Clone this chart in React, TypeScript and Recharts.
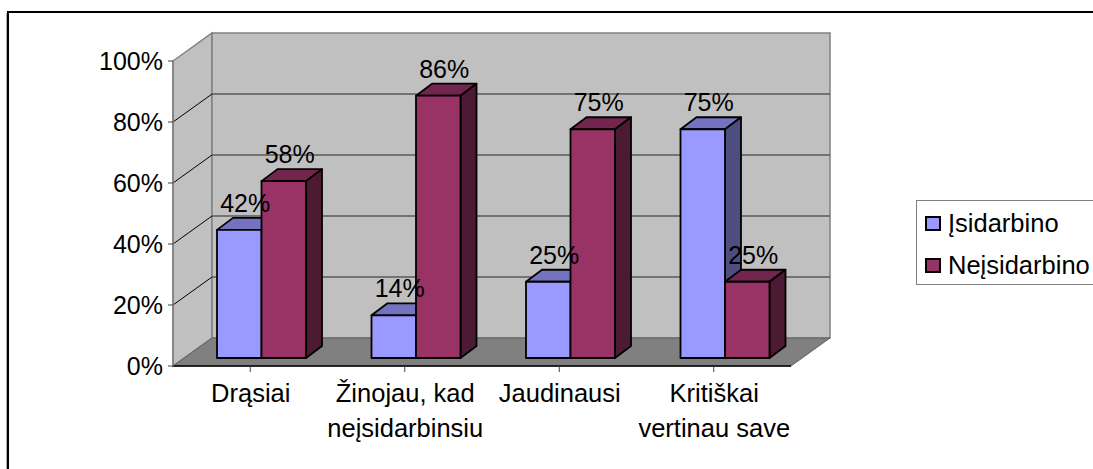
import React from 'react';
import { BarChart, Bar, XAxis, YAxis, CartesianGrid, Legend, LabelList } from 'recharts';

const categories = ['Drąsiai', 'Žinojau, kad\nneįsidarbinsiu', 'Jaudinausi', 'Kritiškai\nvertinau save'];
const isidarbino = [0.42, 0.14, 0.25, 0.75];
const neisidarbino = [0.58, 0.86, 0.75, 0.25];
const yTicks = [0, 0.2, 0.4, 0.6, 0.8, 1];

const data = categories.map((name, i) => ({
    name,
    isidarbino: isidarbino[i],
    neisidarbino: neisidarbino[i],
}));

const FONT = '"Liberation Sans", Arial, sans-serif';
const PLOT = { left: 173, right: 791, top: 61, bottom: 366 };
const LEGEND_WIDTH = 177;
// 3D look: depth of the walls and of the bars, and where the bars sit on the floor
const WALL_DX = 39;
const WALL_DY = -28;
const BAR_DX = 16;
const BAR_DY = -12;
const FLOOR_DX = 11;
const FLOOR_DY = -8;

const pts = (list: number[][]) => list.map((p) => p.join(',')).join(' ');

// sits in its own svg under the chart so the grid stays visible on top of it
const Walls = () => {
    const { left, right, top, bottom } = PLOT;
    return (
        <svg width={1093} height={469} style={{ position: 'absolute', left: 0, top: 0 }}>
            <polygon
                points={pts([[left, top], [left + WALL_DX, top + WALL_DY], [left + WALL_DX, bottom + WALL_DY], [left, bottom]])}
                fill="#C0C0C0"
                stroke="#808080"
                strokeWidth={1.5}
            />
            <rect
                x={left + WALL_DX}
                y={top + WALL_DY}
                width={right - left}
                height={bottom - top}
                fill="#C0C0C0"
                stroke="#808080"
                strokeWidth={1.5}
            />
            <polygon
                points={pts([[left, bottom], [left + WALL_DX, bottom + WALL_DY], [right + WALL_DX, bottom + WALL_DY], [right, bottom]])}
                fill="#808080"
                stroke="#606060"
            />
        </svg>
    );
};

// gridline runs up the side wall and then along the back wall
const GridLine = (props: any) => {
    const { x1, x2, y1 } = props;
    if (Math.abs(y1 - PLOT.top) < 1 || Math.abs(y1 - PLOT.bottom) < 1) return null;
    return (
        <g>
            <line x1={x1} y1={y1} x2={x1 + WALL_DX} y2={y1 + WALL_DY} stroke="#000" strokeWidth={1} />
            <line x1={x1 + WALL_DX} y1={y1 + WALL_DY} x2={x2 + WALL_DX} y2={y1 + WALL_DY} stroke="#5a5a5a" strokeWidth={1.5} />
        </g>
    );
};

const makeBox = (front: string, top: string, side: string) => (props: any) => {
    const { x, y, width, height } = props;
    const l = x + FLOOR_DX;
    const r = l + width;
    const t = y + FLOOR_DY;
    const b = t + height;
    return (
        <g stroke="#000" strokeWidth={1.8} strokeLinejoin="round">
            <polygon points={pts([[l, t], [l + BAR_DX, t + BAR_DY], [r + BAR_DX, t + BAR_DY], [r, t]])} fill={top} />
            <polygon points={pts([[r, t], [r + BAR_DX, t + BAR_DY], [r + BAR_DX, b + BAR_DY], [r, b]])} fill={side} />
            <rect x={l} y={t} width={width} height={height} fill={front} />
        </g>
    );
};

const BarValue = (props: any) => {
    const { x, y, width, value } = props;
    return (
        <text
            x={x + FLOOR_DX + width / 2 + 6}
            y={y + FLOOR_DY - 18}
            textAnchor="middle"
            fontFamily={FONT}
            fontSize={25}
            fill="#000"
        >
            {Math.round(value * 100)}%
        </text>
    );
};

const CategoryTick = (props: any) => {
    const { x, y, payload } = props;
    const lines: string[] = String(payload.value).split('\n');
    return (
        <g>
            {lines.map((line, i) => (
                <text
                    key={line}
                    x={x + 0.5}
                    y={y + 28 + i * 35}
                    textAnchor="middle"
                    fontFamily={FONT}
                    fontSize={25.5}
                    fill="#000"
                >
                    {line}
                </text>
            ))}
        </g>
    );
};

const LegendBox = ({ payload }: any) => (
    <div
        style={{
            boxSizing: 'border-box',
            width: LEGEND_WIDTH + 10,
            height: 85,
            border: '1.5px solid #808080',
            background: '#fff',
            fontFamily: FONT,
            fontSize: 25.5,
            position: 'relative',
        }}
    >
        {(payload || []).map((entry: any, i: number) => (
            <div key={entry.value} style={{ position: 'absolute', left: 8, top: 8 + i * 42, height: 28, lineHeight: '28px', whiteSpace: 'nowrap' }}>
                <span
                    style={{
                        position: 'absolute',
                        top: 7,
                        left: 0,
                        boxSizing: 'border-box',
                        width: 16,
                        height: 15,
                        background: entry.color,
                        border: '2px solid #000',
                    }}
                />
                <span style={{ marginLeft: 23 }}>{entry.value}</span>
            </div>
        ))}
    </div>
);

export default function App() {
    return (
        <div style={{ position: 'absolute', left: 0, top: 0, width: 1093, height: 469, overflow: 'hidden', background: '#fff' }}>
            <div style={{ position: 'absolute', left: 6, top: 13, width: 1, height: 460, background: '#aaa' }} />
            <div style={{ position: 'absolute', left: 7, top: 11, width: 1200, height: 600, borderTop: '2px solid #000', borderLeft: '2px solid #000' }} />
            <Walls />
            <div style={{ position: 'absolute', left: 0, top: 0 }}>
                <BarChart
                    width={1093}
                    height={469}
                    data={data}
                    margin={{ top: PLOT.top, right: 1093 - PLOT.right - LEGEND_WIDTH, bottom: 0, left: 0 }}
                    barSize={44.5}
                    barGap={0}
                >
                    <CartesianGrid vertical={false} horizontal={(p: any) => <GridLine key={p.key} {...p} />} />
                    <XAxis
                        dataKey="name"
                        height={469 - PLOT.bottom}
                        interval={0}
                        axisLine={{ stroke: '#000', strokeWidth: 1.5 }}
                        tickLine={{ stroke: '#404040' }}
                        tickSize={6}
                        tick={<CategoryTick />}
                    />
                    <YAxis
                        width={PLOT.left}
                        domain={[0, 1]}
                        ticks={yTicks}
                        interval={0}
                        axisLine={{ stroke: '#808080', strokeWidth: 1.5 }}
                        tickLine={{ stroke: '#404040' }}
                        tickSize={5}
                        tickMargin={5}
                        tick={{ fill: '#000', fontFamily: FONT, fontSize: 25 }}
                        tickFormatter={(v: number) => `${Math.round(v * 100)}%`}
                    />
                    <Legend
                        layout="vertical"
                        align="right"
                        verticalAlign="top"
                        width={LEGEND_WIDTH}
                        itemSorter={null}
                        content={<LegendBox />}
                        wrapperStyle={{ left: 916, top: 200, width: LEGEND_WIDTH }}
                    />
                    <Bar
                        dataKey="isidarbino"
                        name="Įsidarbino"
                        fill="#9999FF"
                        isAnimationActive={false}
                        shape={makeBox('#9999FF', '#7373BF', '#4D4D80')}
                    >
                        <LabelList dataKey="isidarbino" content={<BarValue />} />
                    </Bar>
                    <Bar
                        dataKey="neisidarbino"
                        name="Neįsidarbino"
                        fill="#993366"
                        isAnimationActive={false}
                        shape={makeBox('#993366', '#73264D', '#4D1A33')}
                    >
                        <LabelList dataKey="neisidarbino" content={<BarValue />} />
                    </Bar>
                </BarChart>
            </div>
        </div>
    );
}
